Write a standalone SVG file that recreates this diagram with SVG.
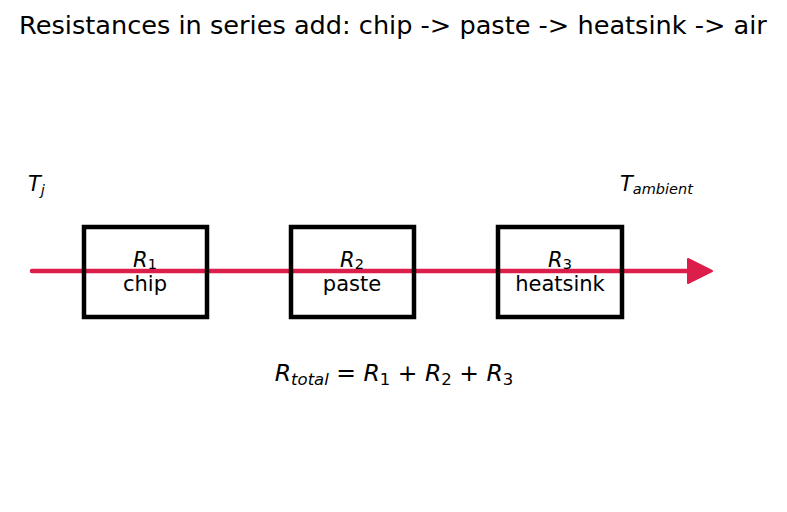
<svg xmlns="http://www.w3.org/2000/svg" width="787" height="512" viewBox="0 0 787 512">
<style>
text{font-family:"DejaVu Sans",sans-serif;fill:#000}
.box{fill:none;stroke:#000;stroke-width:4.5}
.it{font-style:italic}
.lbl{font-size:21px;text-anchor:middle}
.sub{font-size:14.5px}
</style>
<defs>
<marker id="ah" viewBox="0 0 26 26" refX="12" refY="13" markerWidth="26" markerHeight="26" orient="auto" markerUnits="userSpaceOnUse">
<path d="M1,1 L25,13 L1,25 z" fill="#dc1e4b" stroke="#dc1e4b" stroke-width="2" stroke-linejoin="round"/>
</marker>
</defs>
<rect width="787" height="512" fill="#fff"/>
<text x="393" y="34" style="font-size:25.6px" text-anchor="middle">Resistances in series add: chip -&gt; paste -&gt; heatsink -&gt; air</text>
<g id="connectors">
<line x1="32" y1="271" x2="699" y2="271" stroke="#dc1e4b" stroke-width="4.5" stroke-linecap="round" marker-end="url(#ah)"/>
</g>
<g id="node-chip">
<rect class="box" x="84" y="227" width="123" height="90"/>
<text class="lbl" x="145" y="267"><tspan class="it">R</tspan><tspan class="sub" dy="2">1</tspan></text>
<text class="lbl" x="145" y="291">chip</text>
</g>
<g id="node-paste">
<rect class="box" x="291" y="227" width="123" height="90"/>
<text class="lbl" x="352" y="267"><tspan class="it">R</tspan><tspan class="sub" dy="2">2</tspan></text>
<text class="lbl" x="352" y="291">paste</text>
</g>
<g id="node-heatsink">
<rect class="box" x="498" y="227" width="124" height="90"/>
<text class="lbl" x="560" y="267"><tspan class="it">R</tspan><tspan class="sub" dy="2">3</tspan></text>
<text class="lbl" x="560" y="291">heatsink</text>
</g>
<g id="label-tj">
<text x="28" y="191" style="font-size:21px"><tspan class="it">T</tspan><tspan class="it" style="font-size:14.5px" dy="4">j</tspan></text>
</g>
<g id="label-tamb">
<text x="620" y="191" style="font-size:21px"><tspan class="it">T</tspan><tspan class="it" style="font-size:14.5px" dy="3">ambient</tspan></text>
</g>
<g id="formula">
<text x="394" y="381" style="font-size:23.5px" text-anchor="middle"><tspan class="it">R</tspan><tspan class="it" style="font-size:16.5px" dy="4">total</tspan><tspan dy="-4"> = </tspan><tspan class="it">R</tspan><tspan style="font-size:16.5px" dy="4">1</tspan><tspan dy="-4"> + </tspan><tspan class="it">R</tspan><tspan style="font-size:16.5px" dy="4">2</tspan><tspan dy="-4"> + </tspan><tspan class="it">R</tspan><tspan style="font-size:16.5px" dy="4">3</tspan></text>
</g>
</svg>
